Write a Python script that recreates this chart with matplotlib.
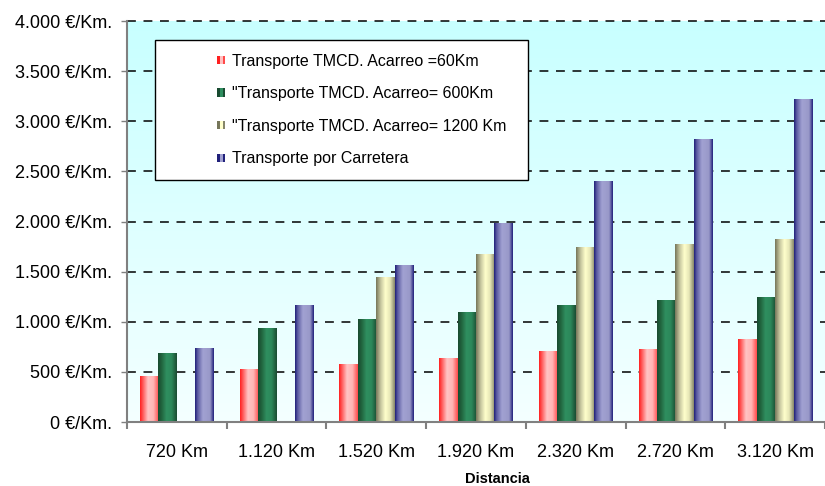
import numpy as np
import matplotlib
matplotlib.use("Agg")
import matplotlib.pyplot as plt
from matplotlib.colors import to_rgba
from matplotlib.patches import Rectangle
from matplotlib.legend_handler import HandlerBase

plt.rcParams['font.family'] = ['Liberation Sans', 'DejaVu Sans']

# ---- data -------------------------------------------------------------
categories = ["720 Km", "1.120 Km", "1.520 Km", "1.920 Km",
              "2.320 Km", "2.720 Km", "3.120 Km"]
series_names = ["Transporte TMCD. Acarreo =60Km",
                "\"Transporte TMCD. Acarreo= 600Km",
                "\"Transporte TMCD. Acarreo= 1200 Km",
                "Transporte por Carretera"]
tmcd_60 = [460, 530, 583, 640, 710, 730, 830]
tmcd_600 = [690, 940, 1030, 1100, 1170, 1220, 1250]
tmcd_1200 = [0, 0, 1450, 1680, 1750, 1780, 1830]
carretera = [740, 1170, 1570, 1990, 2400, 2820, 3220]
series_values = [tmcd_60, tmcd_600, tmcd_1200, carretera]
y_ticks = list(range(0, 4001, 500))
x_label = "Distancia"

# cylinder-like shading stops for each series (position, colour)
shading = [
    [(0.0, "#ff2020"), (0.15, "#ff5a5a"), (0.42, "#ffc4c4"), (0.72, "#ffb4b4"), (1.0, "#ff4a4a")],
    [(0.0, "#184a30"), (0.2, "#22663f"), (0.45, "#2f8f60"), (0.72, "#2c885a"), (1.0, "#1a4c32")],
    [(0.0, "#76765a"), (0.25, "#c8c8a0"), (0.5, "#ffffcc"), (0.75, "#e6e6b6"), (1.0, "#86866a")],
    [(0.0, "#20207a"), (0.14, "#5c5ca2"), (0.42, "#a2a2d2"), (0.8, "#9898c8"), (1.0, "#22227c")],
]
mid_colors = ["#ff9090", "#2f8f60", "#e6e6b0", "#8080c0"]


def gradient_row(stops, n=64):
    pos = np.array([p for p, _ in stops])
    cols = np.array([to_rgba(c) for _, c in stops])
    xs = np.linspace(0, 1, n)
    row = np.stack([np.interp(xs, pos, cols[:, k]) for k in range(4)], axis=-1)
    return row[np.newaxis, :, :]


class StripedSquare(HandlerBase):
    def __init__(self, stops):
        super().__init__()
        self.stops = stops

    def create_artists(self, legend, orig_handle, xdescent, ydescent,
                       width, height, fontsize, trans):
        s = 6.0
        x0 = width - s - xdescent
        y0 = (height - s) / 2 - ydescent
        row = gradient_row(self.stops, 3)[0]
        arts = []
        for i in range(3):
            arts.append(Rectangle((x0 + i * s / 3, y0), s / 3, s,
                                  facecolor=row[i], edgecolor='none',
                                  transform=trans))
        return arts


fig = plt.figure(figsize=(8.25, 4.86), dpi=100)
ax = fig.add_axes([127 / 825, 1 - 422 / 486, 698 / 825, 401 / 486])

# background: vertical cyan fade (deeper cyan at the top)
bg = np.linspace(0, 1, 256)[:, None]
top_c = np.array(to_rgba("#c8ffff"))
bot_c = np.array(to_rgba("#f4ffff"))
bg_img = (top_c[None, None, :] * (1 - bg[..., None]) + bot_c[None, None, :] * bg[..., None])
ax.imshow(bg_img, extent=[0, 1, 0, 1], origin='upper', transform=ax.transAxes,
          aspect='auto', zorder=0, interpolation='bilinear')

n_series = len(series_values)
bar_w = 0.185
x = np.arange(len(categories))
for i, vals in enumerate(series_values):
    offs = (i - (n_series - 1) / 2) * bar_w
    bars = ax.bar(x + offs, vals, width=bar_w, color=mid_colors[i],
                  edgecolor='none', zorder=2, label=series_names[i])
    row = gradient_row(shading[i])
    for b in bars:
        h = b.get_height()
        if h <= 0:
            continue
        bx = b.get_x()
        im = ax.imshow(row, extent=[bx, bx + b.get_width(), 0, h],
                       aspect='auto', interpolation='bilinear', zorder=2.1)
        im.set_clip_path(b)

ax.set_xlim(-0.5, len(categories) - 0.5)
ax.set_ylim(0, 4000)

# axes styling
for side in ['top', 'right']:
    ax.spines[side].set_visible(False)
ax.spines['left'].set_color('#808080')
ax.spines['left'].set_linewidth(1.5)
ax.spines['bottom'].set_color('#808080')
ax.spines['bottom'].set_linewidth(1.5)

ax.set_yticks(y_ticks)
ax.set_yticklabels([f"{v:,}".replace(",", ".") + " €/Km." for v in y_ticks])
ax.tick_params(axis='y', length=4, width=1, color='#808080', pad=7,
               labelsize=13, labelcolor='black')

ax.set_xticks(x)
ax.set_xticklabels(categories)
ax.set_xticks(np.arange(-0.5, len(categories)), minor=True)
ax.tick_params(axis='x', which='major', length=0, pad=16, labelsize=13)
ax.tick_params(axis='x', which='minor', length=5, width=1.5, color='#808080')

ax.set_axisbelow(True)
ax.yaxis.grid(True, color='black', linestyle=(0, (5.8, 5)), linewidth=1.1)
for gl in ax.get_ygridlines():
    gl.set_clip_on(False)

ax.set_xlabel(x_label, fontsize=10.5, fontweight='bold')
ax.xaxis.set_label_coords((497 - 127) / 698, -0.125)

handles = [Rectangle((0, 0), 1, 1, facecolor=c) for c in mid_colors]
hmap = {h: StripedSquare(shading[i]) for i, h in enumerate(handles)}
leg = ax.legend(handles, series_names, handler_map=hmap,
                loc='upper left',
                bbox_to_anchor=((155 - 127) / 698, (422 - 44) / 401, (528 - 155) / 698, 0.01),
                mode='expand', borderaxespad=0, fontsize=11.5,
                handlelength=3.55, handletextpad=0.45, labelspacing=1.1,
                borderpad=0.85, fancybox=False, framealpha=1, frameon=True)
leg.get_frame().set_edgecolor('black')
leg.get_frame().set_linewidth(1.0)
leg.set_zorder(5)

fig.savefig("out.png", dpi=100)
